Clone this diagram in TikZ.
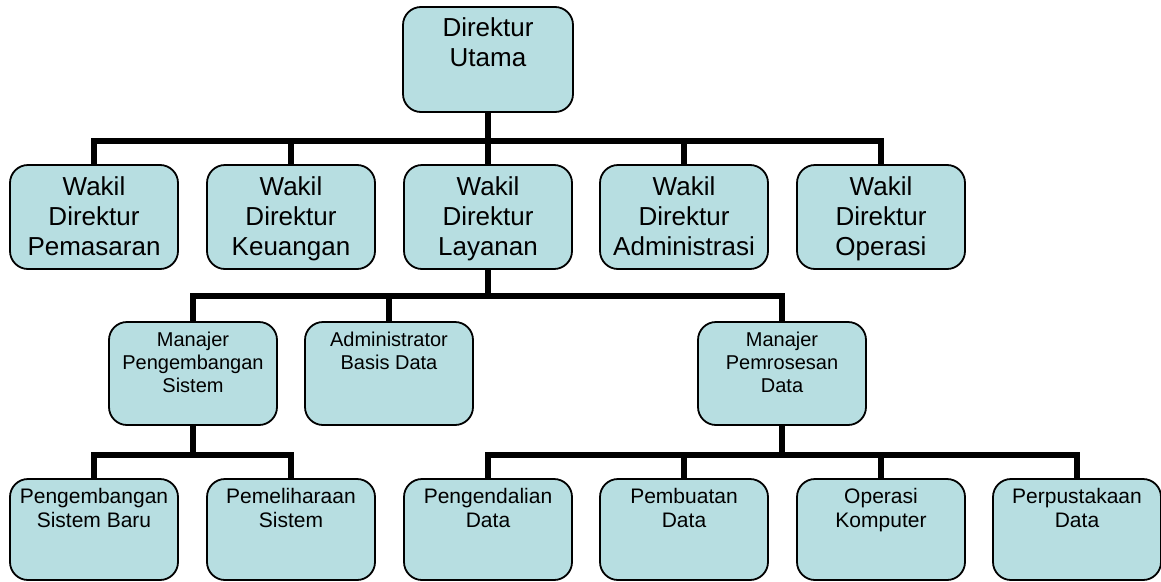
\documentclass[tikz,border=0pt]{standalone}
\usepackage{fontspec}
\setmainfont{Liberation Sans}
\definecolor{boxfill}{RGB}{183,222,225}
\tikzset{
  orgbox/.style={draw=black, line width=1.8pt, fill=boxfill, rounded corners=18pt,
                 inner sep=0pt, minimum width=168pt},
  caption/.style={anchor=north, inner sep=0pt, align=center},
  tbig/.style={caption, font=\fontsize{26}{30}\selectfont},
  tmid/.style={caption, font=\fontsize{20}{23}\selectfont},
  tsmall/.style={caption, font=\fontsize{21}{24}\selectfont},
  conn/.style={line width=6pt}
}
\begin{document}
\begin{tikzpicture}[x=1pt, y=-1pt]
\useasboundingbox (0,0) rectangle (1161,581);

% bus levels
\coordinate (b1) at (0,141);
\coordinate (b2) at (0,296);
\coordinate (b3) at (0,455);

% top
\node[orgbox, minimum width=170pt, minimum height=105pt] (dir) at (488,59.5) {};
\node[tbig] (dir-t) at ([yshift=-11pt]dir.north) {Direktur\\Utama};

% deputies
\foreach \n/\x/\t in {wpm/94/Pemasaran, wku/291/Keuangan, wly/488/Layanan,
                      wad/684/Administrasi, wop/881/Operasi}{
  \node[orgbox, minimum height=104pt] (\n) at (\x,217) {};
  \node[tbig] (\n-t) at ([yshift=-12pt]\n.north) {Wakil\\Direktur\\\t};
}

% managers
\node[orgbox, minimum height=103pt] (mps) at (193,373.5) {};
\node[tmid] (mps-t) at ([yshift=-11pt]mps.north) {Manajer\\Pengembangan\\Sistem};
\node[orgbox, minimum height=103pt] (abd) at (389,373.5) {};
\node[tmid] (abd-t) at ([yshift=-11pt]abd.north) {Administrator\\Basis Data};
\node[orgbox, minimum height=103pt] (mpd) at (782,373.5) {};
\node[tmid] (mpd-t) at ([yshift=-11pt]mpd.north) {Manajer\\Pemrosesan\\Data};

% staff
\foreach \n/\x/\a/\b in {psb/94/Pengembangan/Sistem Baru, pms/291/Pemeliharaan/Sistem,
                         pgd/488/Pengendalian/Data, pbd/684/Pembuatan/Data,
                         opk/881/Operasi/Komputer, ppd/1077/Perpustakaan/Data}{
  \node[orgbox, minimum height=101pt] (\n) at (\x,529.5) {};
  \node[tsmall] (\n-t) at ([yshift=-10pt]\n.north) {\a\\\b};
}

% connectors
\foreach \c in {wpm, wku, wly, wad, wop}
  \draw[conn] (dir.south) -- (dir.south |- b1) -| (\c.north);
\foreach \c in {mps, abd, mpd}
  \draw[conn] (wly.south) -- (wly.south |- b2) -| (\c.north);
\foreach \c in {psb, pms}
  \draw[conn] (mps.south) -- (mps.south |- b3) -| (\c.north);
\foreach \c in {pgd, pbd, opk, ppd}
  \draw[conn] (mpd.south) -- (mpd.south |- b3) -| (\c.north);
\end{tikzpicture}
\end{document}
